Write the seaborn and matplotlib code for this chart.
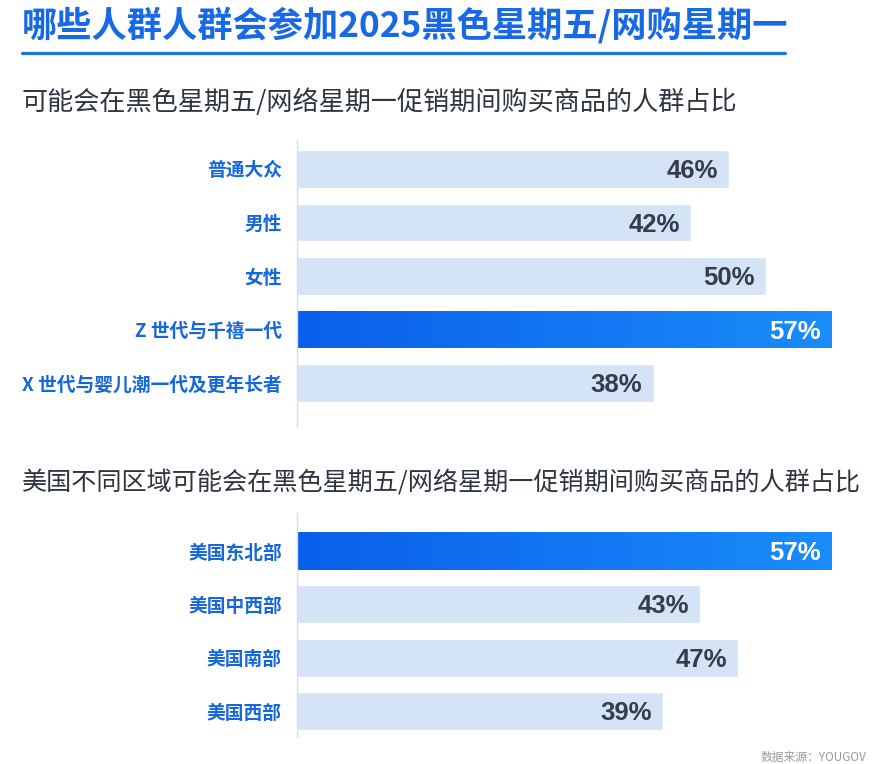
import numpy as np
import pandas as pd
import matplotlib
matplotlib.use("Agg")
import matplotlib.pyplot as plt
import seaborn as sns

# data
groups = ["普通大众", "男性", "女性", "Z 世代与千禧一代", "X 世代与婴儿潮一代及更年长者"]
group_values = [46, 42, 50, 57, 38]
group_highlight = "Z 世代与千禧一代"

regions = ["美国东北部", "美国中西部", "美国南部", "美国西部"]
region_values = [57, 43, 47, 39]
region_highlight = "美国东北部"

title = "哪些人群人群会参加2025黑色星期五/网购星期一"
subtitle_1 = "可能会在黑色星期五/网络星期一促销期间购买商品的人群占比"
subtitle_2 = "美国不同区域可能会在黑色星期五/网络星期一促销期间购买商品的人群占比"
source = "数据来源：YOUGOV"

sns.set_theme(style="white")
plt.rcParams['font.family'] = ['Noto Sans CJK SC', 'DejaVu Sans']

W, H = 874, 764
BLUE = "#1769e6"
LIGHT = "#d5e3f6"
DARK_TXT = "#353c4a"
AXIS = "#d3deeb"

fig = plt.figure(figsize=(W / 100, H / 100), dpi=100)


def box(x0, y0, x1, y1):
    # pixel box (top-left origin) -> figure fraction rect
    return [x0 / W, 1 - y1 / H, (x1 - x0) / W, (y1 - y0) / H]


def draw_group(rect, cats, vals, hl, ylim):
    ax = fig.add_axes(rect)
    df = pd.DataFrame({"cat": cats, "val": vals})
    colors = {c: (BLUE if c == hl else LIGHT) for c in cats}
    sns.barplot(data=df, y="cat", x="val", hue="cat", palette=colors,
                order=cats, width=0.71, legend=False, ax=ax, saturation=1)
    ax.set_xlim(0, 60)
    ax.set_ylim(*ylim)
    ax.set_xlabel("")
    ax.set_ylabel("")
    ax.set_xticks([])
    for s in ["top", "right", "bottom"]:
        ax.spines[s].set_visible(False)
    ax.spines["left"].set_color(AXIS)
    ax.spines["left"].set_linewidth(1)
    ax.tick_params(axis="y", length=0, pad=11)
    for lab in ax.get_yticklabels():
        lab.set_color("#1667dc")
        lab.set_fontweight("bold")
        lab.set_fontsize(13.5)

    grad = np.linspace(0, 1, 256).reshape(1, -1)
    cmap = matplotlib.colors.LinearSegmentedColormap.from_list("g", ["#0a5fea", "#1a8cfb"])
    for patch, c, v in zip(ax.patches, cats, vals):
        is_hl = c == hl
        if is_hl:
            x0, y0 = patch.get_x(), patch.get_y()
            w, h = patch.get_width(), patch.get_height()
            im = ax.imshow(grad, cmap=cmap, aspect="auto",
                           extent=[x0, x0 + w, y0 + h, y0], zorder=patch.get_zorder() + 0.1)
            im.set_clip_path(patch)
        # digits centred on the bar: baseline ~9 px below the centre
        ax.annotate(f"{v}%", xy=(v, patch.get_y() + patch.get_height() / 2),
                    xytext=(-8, -6.5), textcoords="offset points",
                    ha="right", va="baseline", fontsize=18.5, fontweight="bold",
                    family=["Liberation Sans", "DejaVu Sans"],
                    color="white" if is_hl else DARK_TXT, zorder=5)
    ax.set_xlim(0, 60)
    ax.set_ylim(*ylim)
    return ax


# top group: bar centres at 169..383 px, spacing 53.5
draw_group(box(297, 140, 860, 427), groups, group_values, group_highlight,
           (4 + (427 - 383) / 53.5, -(169 - 140) / 53.5))
# bottom group: bar centres at 551..711 px, spacing 53.3
draw_group(box(297, 513, 860, 737), regions, region_values, region_highlight,
           (3 + (737 - 711) / 53.3, -(551 - 513) / 53.3))

fig.text(22 / W, 1 - 25 / H, title, fontsize=25.4, fontweight="bold",
         color=BLUE, ha="left", va="center")
fig.add_artist(plt.Line2D([22 / W, 785 / W], [1 - 53 / H, 1 - 53 / H],
                          color="#1a73e8", linewidth=2.3))
fig.text(22 / W, 1 - 102 / H, subtitle_1, fontsize=18.8, color="#2f3540",
         ha="left", va="center")
fig.text(22 / W, 1 - 483 / H, subtitle_2, fontsize=18.1, color="#2f3540",
         ha="left", va="center")
fig.text(866 / W, 1 - 757 / H, source, fontsize=8.5, color="#9a9a9a",
         ha="right", va="center")

fig.savefig("out.png", dpi=100)
